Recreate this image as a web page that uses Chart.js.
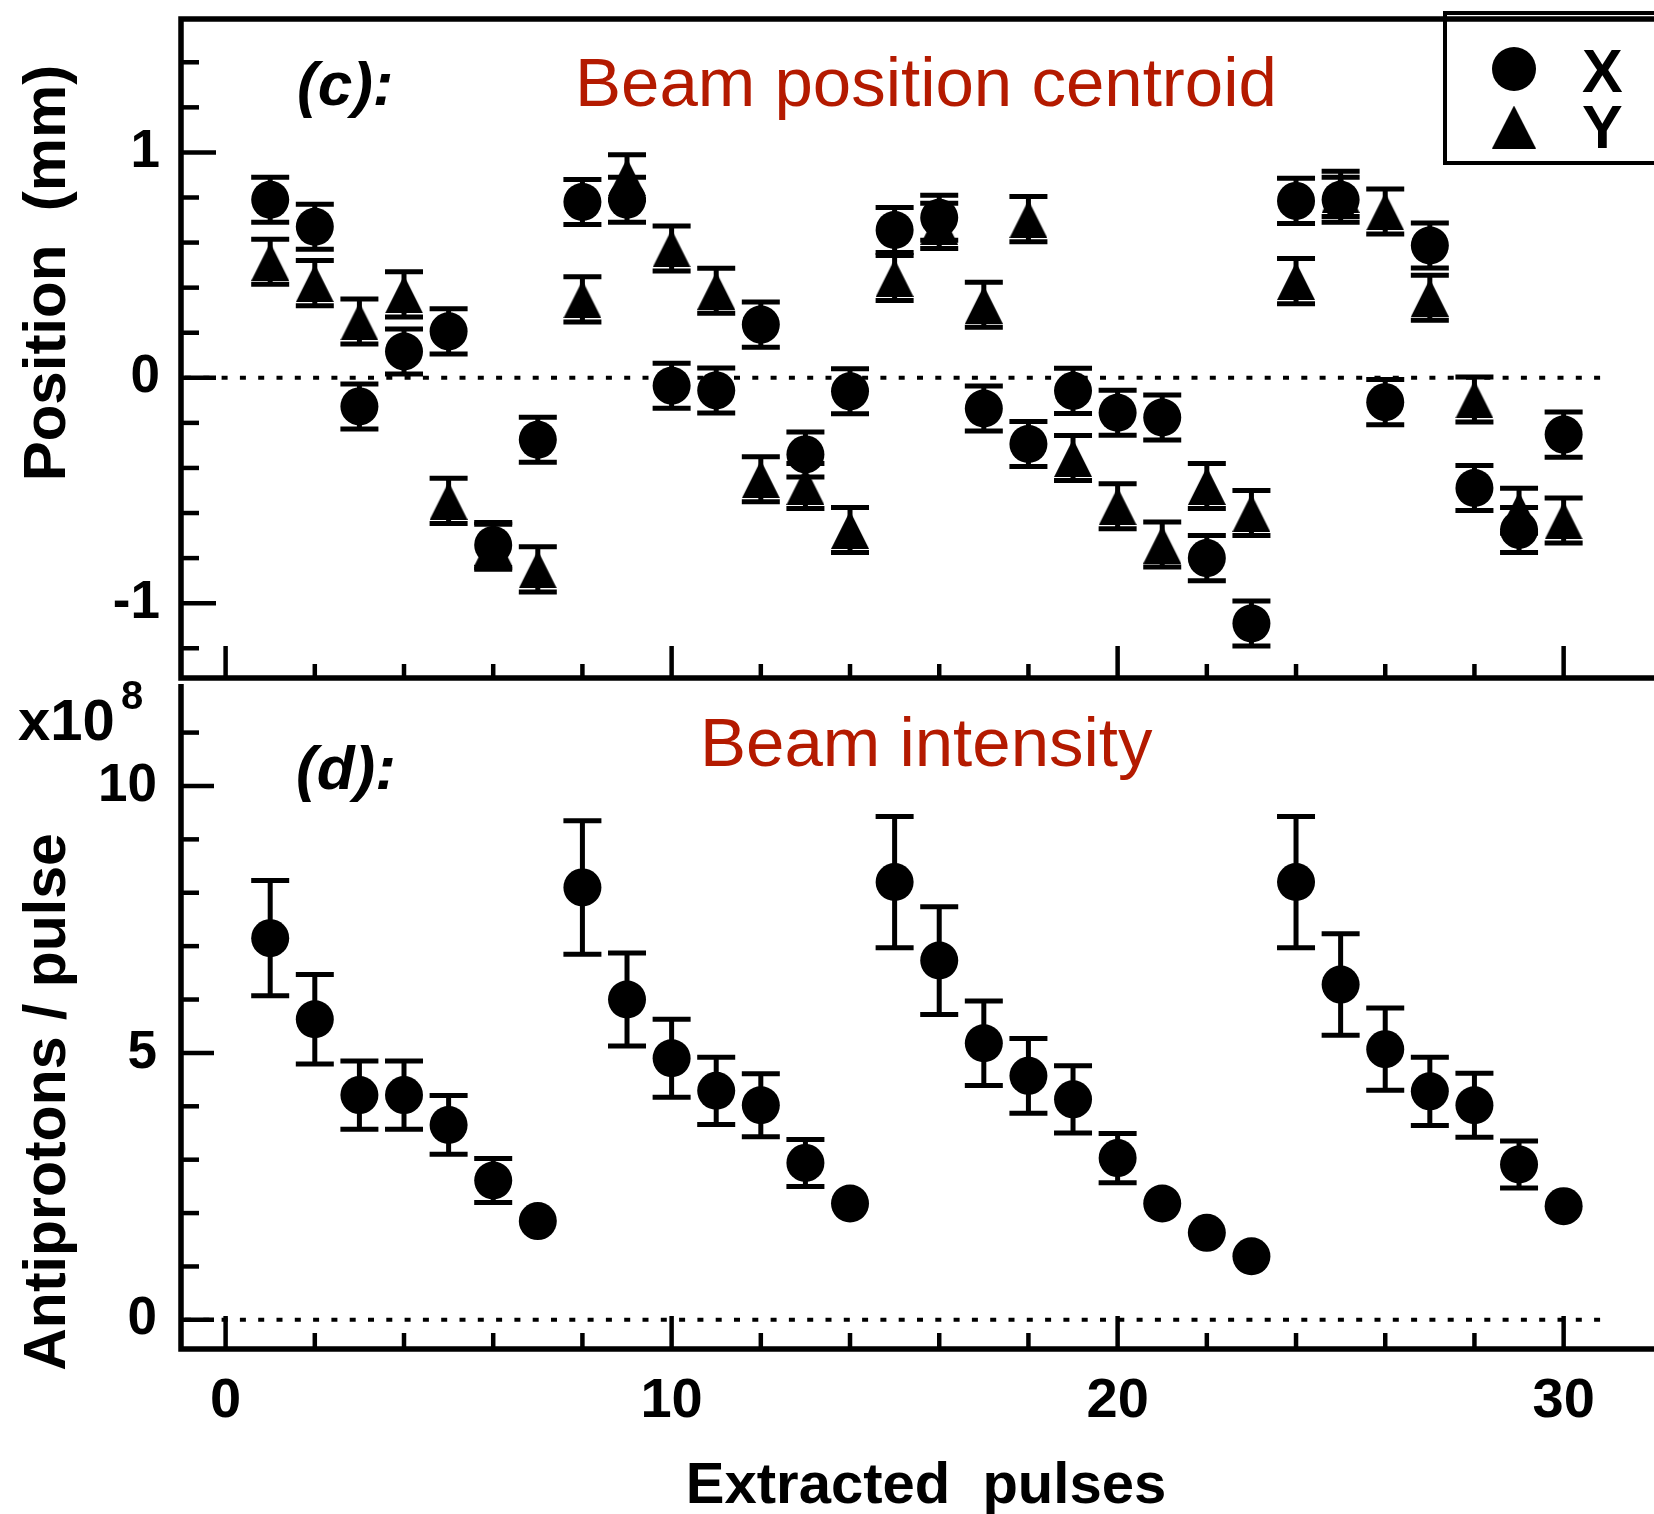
<!DOCTYPE html>
<html><head><meta charset="utf-8">
<script src="https://cdn.jsdelivr.net/npm/chart.js@4.4.1/dist/chart.umd.min.js"></script>
<style>
html,body{margin:0;padding:0;background:#fff;overflow:hidden;}
#wrap{position:relative;width:1654px;height:1514px;background:#fff;}
#wrap canvas{position:absolute;left:0;}
</style></head><body>
<div id="wrap">
<canvas id="c1" width="1654" height="700" style="top:0px"></canvas>
<canvas id="c2" width="1654" height="849" style="top:665px"></canvas>
</div>
<script>
// ---------------- data ----------------
const pulses = [1,2,3,4,5,6,7,8,9,10,11,12,13,14,15,16,17,18,19,20,21,22,23,24,25,26,27,28,29,30];
// (c) beam position centroid (mm)
const posX = [0.79,0.67,-0.127,0.117,0.206,-0.742,-0.275,0.78,0.79,-0.035,-0.056,0.236,-0.34,-0.06,0.656,0.71,-0.136,-0.294,-0.058,-0.155,-0.176,-0.80,-1.09,0.785,0.79,-0.108,0.587,-0.489,-0.675,-0.252];
const posXErr = [0.10,0.10,0.10,0.10,0.10,0.10,0.10,0.10,0.10,0.10,0.10,0.10,0.10,0.10,0.10,0.10,0.10,0.10,0.10,0.10,0.10,0.10,0.10,0.10,0.10,0.10,0.10,0.10,0.10,0.10];
const posY = [0.515,0.42,0.25,0.37,-0.546,-0.75,-0.85,0.348,0.89,0.574,0.386,-0.45,-0.48,-0.675,0.443,0.674,0.324,0.704,-0.356,-0.57,-0.74,-0.48,-0.60,0.429,0.816,0.738,0.355,-0.096,-0.59,-0.633];
const posYErr = [0.10,0.10,0.10,0.10,0.10,0.10,0.10,0.10,0.10,0.10,0.10,0.10,0.10,0.10,0.10,0.10,0.10,0.10,0.10,0.10,0.10,0.10,0.10,0.10,0.10,0.10,0.10,0.10,0.10,0.10];
// (d) beam intensity (x10^8 antiprotons / pulse)
const intensity = [7.15,5.63,4.21,4.21,3.65,2.61,1.85,8.10,6.00,4.90,4.29,4.02,2.94,2.18,8.20,6.73,5.18,4.57,4.13,3.03,2.18,1.63,1.19,8.20,6.28,5.07,4.28,4.02,2.91,2.13];
const intensityErr = [1.08,0.84,0.64,0.64,0.55,0.41,null,1.25,0.87,0.73,0.63,0.59,0.44,null,1.23,1.01,0.79,0.70,0.63,0.46,null,null,null,1.23,0.95,0.77,0.64,0.60,0.44,null];
// tick labels
const xTickLabels = [0,10,20,30];
const posTickLabels = [-1,0,1];
const intensityTickLabels = [0,5,10];
const seriesNames = ['X','Y'];

// ---------------- styling helpers ----------------
const FONT = "'Liberation Sans', Arial, Helvetica, sans-serif";
const RED = '#B41A00';

function makeTri(w, h) {
  const c = document.createElement('canvas');
  c.width = w; c.height = h;
  const g = c.getContext('2d');
  g.fillStyle = '#000';
  g.beginPath(); g.moveTo(w / 2, 0); g.lineTo(w, h); g.lineTo(0, h); g.closePath(); g.fill();
  return c;
}
const triMarker = makeTri(38, 38);
const triLegend = makeTri(44, 43);

function pts(xs, ys) { return xs.map((x, i) => ({x: x, y: ys[i]})); }

function noPad(s) { s.paddingTop = 0; s.paddingBottom = 0; s.paddingLeft = 0; s.paddingRight = 0; }

function drawErrorBars(chart) {
  const ctx = chart.ctx;
  const xs = chart.scales.x, ys = chart.scales.y;
  ctx.save();
  ctx.strokeStyle = '#000';
  ctx.lineWidth = 5;
  ctx.lineCap = 'butt';
  chart.data.datasets.forEach(ds => {
    const errs = ds.errors;
    if (!errs) return;
    ds.data.forEach((p, i) => {
      const e = errs[i];
      if (e === null || e === undefined) return;
      const px = xs.getPixelForValue(p.x);
      const y1 = ys.getPixelForValue(p.y + e);
      const y2 = ys.getPixelForValue(p.y - e);
      ctx.beginPath();
      ctx.moveTo(px, y1); ctx.lineTo(px, y2);
      ctx.moveTo(px - 19, y1); ctx.lineTo(px + 19, y1);
      ctx.moveTo(px - 19, y2); ctx.lineTo(px + 19, y2);
      ctx.stroke();
    });
  });
  ctx.restore();
}

function drawZeroLine(chart, xEnd) {
  const ctx = chart.ctx;
  const xs = chart.scales.x, ys = chart.scales.y;
  const a = chart.chartArea;
  const py = ys.getPixelForValue(0);
  ctx.save();
  ctx.strokeStyle = '#000';
  ctx.lineWidth = 4;
  ctx.setLineDash([6, 12.3]);
  ctx.beginPath();
  ctx.moveTo(a.left + 4, py);
  ctx.lineTo(xs.getPixelForValue(xEnd), py);
  ctx.stroke();
  ctx.restore();
}

function drawFrameAndTicks(chart, cfg) {
  const ctx = chart.ctx;
  const a = chart.chartArea;
  const xs = chart.scales.x, ys = chart.scales.y;
  ctx.save();
  ctx.strokeStyle = '#000';
  ctx.lineCap = 'butt';
  ctx.lineWidth = 4.5;
  ys.ticks.forEach(t => {
    const py = ys.getPixelForValue(t.value);
    const major = cfg.yMajor(t.value);
    ctx.beginPath();
    ctx.moveTo(a.left, py);
    ctx.lineTo(a.left + (major ? cfg.yMajLen : cfg.yMinLen), py);
    ctx.stroke();
  });
  xs.ticks.forEach(t => {
    const px = xs.getPixelForValue(t.value);
    const major = Math.abs(t.value % 10) < 1e-9;
    ctx.beginPath();
    ctx.moveTo(px, a.bottom);
    ctx.lineTo(px, a.bottom - (major ? cfg.xMajLen : cfg.xMinLen));
    ctx.stroke();
  });
  ctx.lineWidth = 5.5;
  ctx.beginPath();
  if (cfg.topLine) { ctx.moveTo(a.left - 2.75, a.top); ctx.lineTo(chart.width, a.top); }
  ctx.moveTo(a.left, a.top); ctx.lineTo(a.left, a.bottom + 2.75);
  ctx.moveTo(a.left - 2.75, a.bottom); ctx.lineTo(chart.width, a.bottom);
  ctx.stroke();
  ctx.restore();
}

function rotText(ctx, text, xBase, yCenter, font) {
  ctx.save();
  ctx.translate(xBase, yCenter);
  ctx.rotate(-Math.PI / 2);
  ctx.font = font;
  ctx.textAlign = 'center';
  ctx.textBaseline = 'alphabetic';
  ctx.fillStyle = '#000';
  ctx.fillText(text, 0, 0);
  ctx.restore();
}

// ---------------- panel (c) ----------------
const topPlugin = {
  id: 'topPanel',
  beforeDatasetsDraw(chart) { drawZeroLine(chart, 31.0); drawErrorBars(chart); },
  afterDatasetsDraw(chart) {
    drawFrameAndTicks(chart, {
      yMajor: v => posTickLabels.some(m => Math.abs(m - v) < 1e-6),
      yMajLen: 35, yMinLen: 18, xMajLen: 32, xMinLen: 14, topLine: true
    });
  },
  afterDraw(chart) {
    const ctx = chart.ctx;
    ctx.save();
    ctx.fillStyle = '#000';
    ctx.textBaseline = 'alphabetic';
    ctx.textAlign = 'left';
    ctx.font = "italic bold 62px " + FONT;
    ctx.fillText('(c):', 297, 105);
    ctx.fillStyle = RED;
    ctx.font = "69px " + FONT;
    ctx.fillText('Beam position centroid', 575, 106);
    ctx.restore();
    rotText(ctx, 'Position  (mm)', 65, 273, "bold 60px " + FONT);
    ctx.save();
    ctx.strokeStyle = '#000';
    ctx.lineWidth = 4;
    ctx.strokeRect(1445, 13, 260, 150);
    ctx.fillStyle = '#000';
    ctx.beginPath(); ctx.arc(1514, 69, 22, 0, Math.PI * 2); ctx.fill();
    ctx.drawImage(triLegend, 1514 - 22, 127 - 21.5);
    ctx.font = "bold 61px " + FONT;
    ctx.textAlign = 'left';
    ctx.textBaseline = 'alphabetic';
    ctx.fillText(seriesNames[0], 1582, 92);
    ctx.fillText(seriesNames[1], 1582, 148);
    ctx.restore();
  }
};

new Chart(document.getElementById('c1'), {
  type: 'scatter',
  data: {
    datasets: [
      {label: seriesNames[0], data: pts(pulses, posX), errors: posXErr, pointStyle: 'circle', pointRadius: 19, pointHoverRadius: 19, backgroundColor: '#000', borderColor: '#000', pointBorderWidth: 0},
      {label: seriesNames[1], data: pts(pulses, posY), errors: posYErr, pointStyle: triMarker, pointRadius: 19, pointHoverRadius: 19, backgroundColor: '#000', borderColor: '#000', pointBorderWidth: 0}
    ]
  },
  options: {
    responsive: false, animation: false, events: [],
    layout: {padding: {top: 13, right: 0, bottom: 0, left: 0}},
    plugins: {legend: {display: false}, tooltip: {enabled: false}},
    scales: {
      x: {type: 'linear', min: -1, max: 31.6,
          grid: {display: false}, border: {display: false},
          ticks: {display: false, stepSize: 2, includeBounds: false, autoSkip: false},
          afterFit(s) { s.height = 22; noPad(s); }},
      y: {type: 'linear', min: -1.332, max: 1.592,
          grid: {display: false}, border: {display: false},
          ticks: {stepSize: 0.2, includeBounds: false, autoSkip: false, padding: 13, color: '#000',
                  font: {family: FONT, size: 53, weight: 'bold'},
                  callback(v) { const m = posTickLabels.find(t => Math.abs(t - v) < 1e-6); return m === undefined ? '' : String(m); }},
          afterFit(s) { s.width = 181; noPad(s); }}
    }
  },
  plugins: [topPlugin]
});

// ---------------- panel (d) ----------------
const botPlugin = {
  id: 'botPanel',
  beforeDatasetsDraw(chart) { drawZeroLine(chart, 31.0); drawErrorBars(chart); },
  afterDatasetsDraw(chart) {
    drawFrameAndTicks(chart, {
      yMajor: v => intensityTickLabels.some(m => Math.abs(m - v) < 1e-6),
      yMajLen: 33, yMinLen: 18, xMajLen: 33, xMinLen: 16, topLine: false
    });
  },
  afterDraw(chart) {
    const ctx = chart.ctx;
    ctx.save();
    ctx.fillStyle = '#000';
    ctx.textBaseline = 'alphabetic';
    ctx.textAlign = 'left';
    ctx.font = "italic bold 62px " + FONT;
    ctx.fillText('(d):', 296, 124);
    ctx.font = "bold 58px " + FONT;
    ctx.fillText('x10', 18, 75);
    ctx.font = "bold 40px " + FONT;
    ctx.fillText('8', 121, 44);
    ctx.fillStyle = RED;
    ctx.font = "69px " + FONT;
    ctx.fillText('Beam intensity', 700, 101);
    ctx.fillStyle = '#000';
    ctx.font = "bold 58px " + FONT;
    ctx.textAlign = 'center';
    ctx.fillText('Extracted  pulses', 926, 838);
    ctx.restore();
    rotText(ctx, 'Antiprotons / pulse', 65, 437, "bold 59px " + FONT);
  }
};

new Chart(document.getElementById('c2'), {
  type: 'scatter',
  data: {
    datasets: [
      {label: 'Antiprotons / pulse', data: pts(pulses, intensity), errors: intensityErr, pointStyle: 'circle', pointRadius: 19, pointHoverRadius: 19, backgroundColor: '#000', borderColor: '#000', pointBorderWidth: 0}
    ]
  },
  options: {
    responsive: false, animation: false, events: [],
    layout: {padding: {top: 13, right: 0, bottom: 0, left: 0}},
    plugins: {legend: {display: false}, tooltip: {enabled: false}},
    scales: {
      x: {type: 'linear', min: -1, max: 31.6,
          grid: {display: false}, border: {display: false},
          ticks: {stepSize: 2, includeBounds: false, autoSkip: false, maxRotation: 0, padding: 17, color: '#000',
                  font: {family: FONT, size: 56, weight: 'bold', lineHeight: 1},
                  callback(v) { return xTickLabels.includes(v) ? String(v) : ''; }},
          afterFit(s) { s.height = 165; noPad(s); }},
      y: {type: 'linear', min: -0.546, max: 11.91,
          grid: {display: false}, border: {display: false},
          ticks: {stepSize: 1, includeBounds: false, autoSkip: false, padding: 16, color: '#000',
                  font: {family: FONT, size: 53, weight: 'bold'},
                  callback(v) { return intensityTickLabels.includes(v) ? String(v) : ''; }},
          afterFit(s) { s.width = 181; noPad(s); }}
    }
  },
  plugins: [botPlugin]
});
</script>
</body></html>
